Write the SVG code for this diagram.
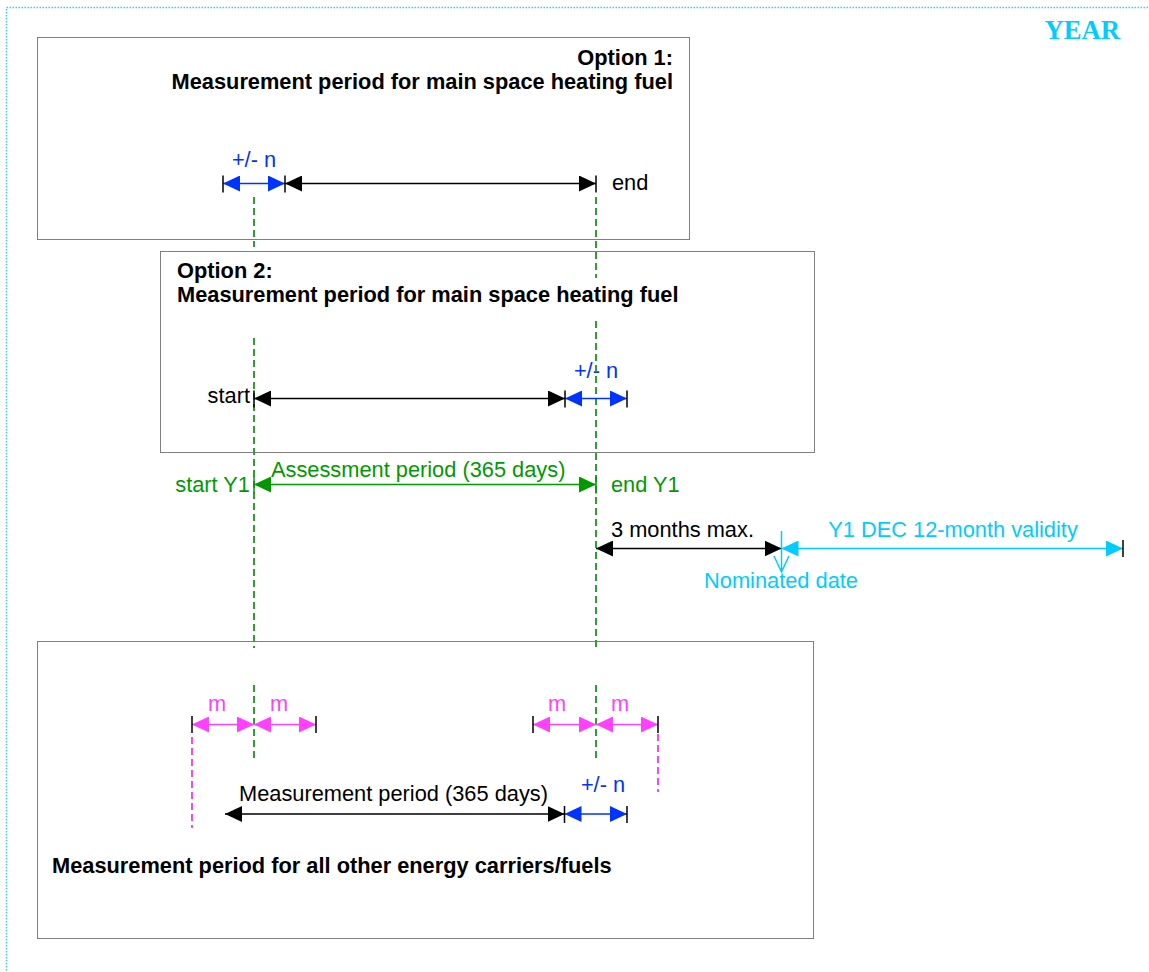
<svg xmlns="http://www.w3.org/2000/svg" width="1149" height="972" viewBox="0 0 1149 972">
<style>
text{font-family:"Liberation Sans",Arial,sans-serif;font-size:21.8px}
.b{font-weight:bold;fill:#000}
.k{fill:#000}
.bl{fill:#0033ff}
.g{fill:#009900}
.m{fill:#ff40ff}
.c{fill:#00ccff}
.box{fill:none;stroke:#000;stroke-width:1;stroke-dasharray:1,1}
.ln{fill:none;stroke-width:1.5}
.lk{stroke:#000}
.lb{stroke:#0033ff}
.lg{stroke:#009900}
.lm{stroke:#ff40ff}
.lc{stroke:#00ccff}
.tick{stroke:#000;stroke-width:1.5}
.gd{stroke:#2ea02e;stroke-width:2;stroke-dasharray:7,4}
.md{stroke:#ff40ff;stroke-width:2;stroke-dasharray:7,4}
</style>
<defs>
<marker id="ak" viewBox="0 0 17 16" refX="17" refY="8" markerWidth="17" markerHeight="16" markerUnits="userSpaceOnUse" orient="auto-start-reverse"><path d="M0,0L17,8L0,16Z" fill="#000"/></marker>
<marker id="ab" viewBox="0 0 17 16" refX="17" refY="8" markerWidth="17" markerHeight="16" markerUnits="userSpaceOnUse" orient="auto-start-reverse"><path d="M0,0L17,8L0,16Z" fill="#0033ff"/></marker>
<marker id="ag" viewBox="0 0 17 16" refX="17" refY="8" markerWidth="17" markerHeight="16" markerUnits="userSpaceOnUse" orient="auto-start-reverse"><path d="M0,0L17,8L0,16Z" fill="#009900"/></marker>
<marker id="am" viewBox="0 0 17 16" refX="17" refY="8" markerWidth="17" markerHeight="16" markerUnits="userSpaceOnUse" orient="auto-start-reverse"><path d="M0,0L17,8L0,16Z" fill="#ff40ff"/></marker>
<marker id="ac" viewBox="0 0 17 16" refX="17" refY="8" markerWidth="17" markerHeight="16" markerUnits="userSpaceOnUse" orient="auto-start-reverse"><path d="M0,0L17,8L0,16Z" fill="#00ccff"/></marker>
</defs>
<rect width="1149" height="972" fill="#fff"/>
<rect x="6.5" y="7.5" width="1160" height="1000" fill="none" stroke="#33ccff" stroke-width="1.5" stroke-dasharray="1.5,1.5"/>
<text id="year" x="1120" y="39" text-anchor="end" style="font-family:'Liberation Serif','Times New Roman',serif;font-weight:bold;font-size:26.7px" class="c">YEAR</text>

<g id="option1">
<rect class="box" x="37.5" y="37.5" width="652" height="202"/>
<text class="b" x="673" y="65" text-anchor="end">Option 1:</text>
<text class="b" x="673" y="89" text-anchor="end">Measurement period for main space heating fuel</text>
<text class="bl" x="254" y="167" text-anchor="middle">+/- n</text>
<text class="k" x="612" y="190">end</text>
</g>

<g id="option2">
<rect class="box" x="160.5" y="251.5" width="654" height="201"/>
<text class="b" x="177" y="278">Option 2:</text>
<text class="b" x="177" y="302">Measurement period for main space heating fuel</text>
<text class="k" x="250" y="403" text-anchor="end">start</text>
<text class="bl" x="596" y="378" text-anchor="middle">+/- n</text>
</g>

<g id="assessment">
<text class="g" x="271" y="477">Assessment period (365 days)</text>
<text class="g" x="250" y="492" text-anchor="end">start Y1</text>
<text class="g" x="611" y="492">end Y1</text>
</g>

<g id="validity">
<text class="k" x="611" y="537">3 months max.</text>
<text class="c" x="953" y="537" text-anchor="middle">Y1 DEC 12-month validity</text>
<text class="c" x="781" y="588" text-anchor="middle">Nominated date</text>
</g>

<g id="other">
<rect class="box" x="37.5" y="641.5" width="776" height="297"/>
<text class="m" x="217" y="711" text-anchor="middle">m</text>
<text class="m" x="279" y="711" text-anchor="middle">m</text>
<text class="m" x="557" y="711" text-anchor="middle">m</text>
<text class="m" x="620" y="711" text-anchor="middle">m</text>
<text class="k" x="239" y="801">Measurement period (365 days)</text>
<text class="bl" x="603" y="792" text-anchor="middle">+/- n</text>
<text class="b" x="52" y="873">Measurement period for all other energy carriers/fuels</text>
</g>

<g id="connectors">
<path class="gd" d="M254,197V247M254,338V648M254,685V758"/>
<path class="gd" d="M596,197V278M596,321V648M596,685V758"/>
<path class="md" d="M192,737V828M658,734V792"/>
<line class="ln lb" x1="223" y1="183.5" x2="285" y2="183.5" marker-start="url(#ab)" marker-end="url(#ab)"/>
<line class="ln lk" x1="285" y1="183.5" x2="596" y2="183.5" marker-start="url(#ak)" marker-end="url(#ak)"/>
<path class="tick" d="M223,175.5V192.5M285,175.5V192.5M596,175.5V192.5"/>
<line class="ln lk" x1="254" y1="398.5" x2="565" y2="398.5" marker-start="url(#ak)" marker-end="url(#ak)"/>
<line class="ln lb" x1="565" y1="398.5" x2="627" y2="398.5" marker-start="url(#ab)" marker-end="url(#ab)"/>
<path class="tick" d="M254,390.5V407.5M565,390.5V407.5M627,390.5V407.5"/>
<line class="ln lg" x1="254" y1="484.5" x2="596" y2="484.5" marker-start="url(#ag)" marker-end="url(#ag)"/>
<path d="M254,476.5V493.5M596,476.5V493.5" stroke="#009900" stroke-width="1.5"/>
<line class="ln lk" x1="596" y1="548.5" x2="781.5" y2="548.5" marker-start="url(#ak)" marker-end="url(#ak)"/>
<line class="ln lc" x1="781.5" y1="548.5" x2="1123" y2="548.5" marker-start="url(#ac)" marker-end="url(#ac)"/>
<path class="tick" d="M1123,540V557"/>
<path class="ln lc" d="M781.5,531V572M774,556L781.5,572L789,556"/>
<line class="ln lm" x1="192" y1="724.5" x2="254" y2="724.5" marker-start="url(#am)" marker-end="url(#am)"/>
<line class="ln lm" x1="254" y1="724.5" x2="316" y2="724.5" marker-start="url(#am)" marker-end="url(#am)"/>
<line class="ln lm" x1="533" y1="724.5" x2="596" y2="724.5" marker-start="url(#am)" marker-end="url(#am)"/>
<line class="ln lm" x1="596" y1="724.5" x2="658" y2="724.5" marker-start="url(#am)" marker-end="url(#am)"/>
<path class="tick" d="M192,716V733M316,716V733M533,716V733M658,716V733"/>
<line class="ln lk" x1="225" y1="814" x2="564.5" y2="814" marker-start="url(#ak)" marker-end="url(#ak)"/>
<line class="ln lb" x1="564.5" y1="814" x2="627" y2="814" marker-start="url(#ab)" marker-end="url(#ab)"/>
<path class="tick" d="M564.5,806V823M627,806V823"/>
</g>
</svg>
